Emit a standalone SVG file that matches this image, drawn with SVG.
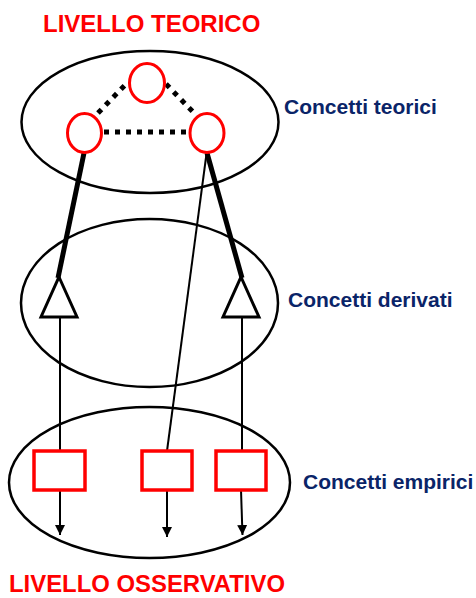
<svg xmlns="http://www.w3.org/2000/svg" width="476" height="598" viewBox="0 0 476 598">
<style>
.lvl{font-family:"Liberation Sans",Arial,sans-serif;font-weight:bold;font-size:24px;fill:#ff0000}
.lbl{font-family:"Liberation Sans",Arial,sans-serif;font-weight:bold;font-size:21px;fill:#0a2468}
.ell{fill:none;stroke:#000;stroke-width:2.5}
.circ{fill:#fff;stroke:#ff0000;stroke-width:3}
.box{fill:#fff;stroke:#ff0000;stroke-width:3.5}
.tri{fill:#fff;stroke:#000;stroke-width:3;stroke-linejoin:miter}
.dot{stroke:#000;stroke-width:5;stroke-dasharray:5 6;fill:none}
.thick{stroke:#000;stroke-width:5;fill:none}
.thin{stroke:#000;stroke-width:2;fill:none}
</style>
<defs>
<marker id="ah" viewBox="0 0 10 10" refX="10" refY="5" markerWidth="5" markerHeight="5" markerUnits="strokeWidth" orient="auto">
<path d="M0,0 L10,5 L0,10 z" fill="#000"/>
</marker>
</defs>
<rect width="476" height="598" fill="#fff"/>
<g id="ellipses">
<ellipse class="ell" cx="150" cy="122" rx="128.5" ry="71"/>
<ellipse class="ell" cx="149.5" cy="303" rx="128.5" ry="84"/>
<ellipse class="ell" cx="149.5" cy="482.5" rx="140.5" ry="75.5"/>
</g>
<g id="connectors">
<line class="dot" x1="98" y1="113" x2="126" y2="84"/>
<line class="dot" x1="166" y1="84" x2="194" y2="113"/>
<line class="dot" x1="104" y1="132" x2="188" y2="132"/>
<line class="thick" x1="84" y1="153" x2="58" y2="278"/>
<line class="thick" x1="207" y1="153" x2="242" y2="278"/>
<line class="thin" x1="207" y1="150" x2="167" y2="451"/>
<line class="thin" x1="60" y1="317" x2="60" y2="451"/>
<line class="thin" x1="242" y1="317" x2="242" y2="451"/>
<line class="thin" x1="60" y1="490" x2="60" y2="535" marker-end="url(#ah)"/>
<line class="thin" x1="167" y1="490" x2="167" y2="537" marker-end="url(#ah)"/>
<line class="thin" x1="241" y1="490" x2="242.5" y2="535" marker-end="url(#ah)"/>
</g>
<g id="t1"><ellipse class="circ" cx="147" cy="83" rx="17.5" ry="19.5"/></g>
<g id="t2"><ellipse class="circ" cx="84.5" cy="133" rx="17" ry="19.5"/></g>
<g id="t3"><ellipse class="circ" cx="207" cy="133" rx="17" ry="19.5"/></g>
<g id="d1"><polygon class="tri" points="59,277 77,317 41,317"/></g>
<g id="d2"><polygon class="tri" points="241,277 259,317 223,317"/></g>
<g id="e1"><rect class="box" x="34" y="451" width="51" height="39"/></g>
<g id="e2"><rect class="box" x="142" y="451" width="50" height="39"/></g>
<g id="e3"><rect class="box" x="216" y="451" width="50" height="39"/></g>
<g id="labels">
<text class="lvl" x="43" y="32">LIVELLO TEORICO</text>
<text class="lvl" x="9" y="592" textLength="276" lengthAdjust="spacingAndGlyphs">LIVELLO OSSERVATIVO</text>
<text class="lbl" x="284" y="114">Concetti teorici</text>
<text class="lbl" x="288" y="307">Concetti derivati</text>
<text class="lbl" x="303" y="489">Concetti empirici</text>
</g>
</svg>
